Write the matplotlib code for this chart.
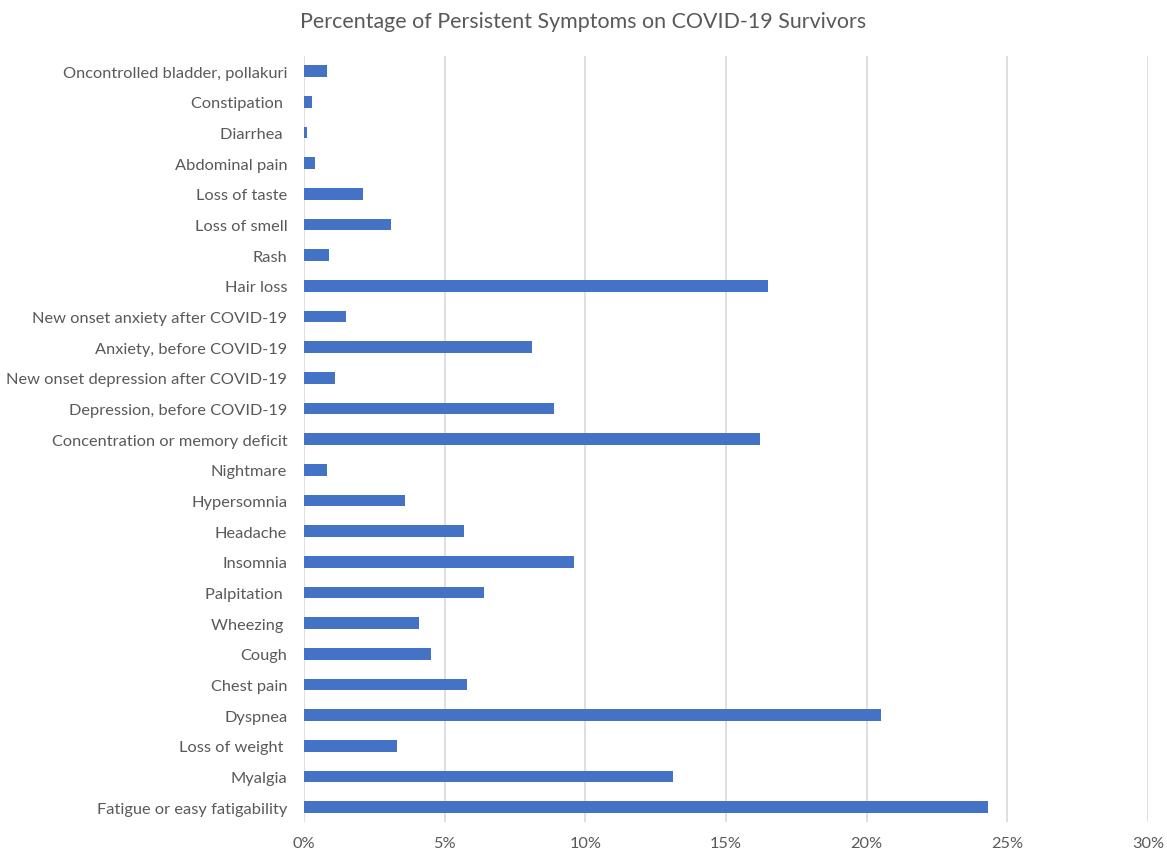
import matplotlib.pyplot as plt
from matplotlib.ticker import PercentFormatter

# categories listed bottom to top, as drawn
symptoms = [
    "Fatigue or easy fatigability", "Myalgia", "Loss of weight ", "Dyspnea",
    "Chest pain", "Cough", "Wheezing ", "Palpitation ", "Insomnia", "Headache",
    "Hypersomnia", "Nightmare", "Concentration or memory deficit",
    "Depression, before COVID-19", "New onset depression after COVID-19",
    "Anxiety, before COVID-19", "New onset anxiety after COVID-19", "Hair loss",
    "Rash", "Loss of smell", "Loss of taste", "Abdominal pain", "Diarrhea ",
    "Constipation ", "Oncontrolled bladder, pollakuri",
]
percent = [
    24.3, 13.1, 3.3, 20.5, 5.8, 4.5, 4.1, 6.4, 9.6, 5.7,
    3.6, 0.8, 16.2, 8.9, 1.1, 8.1, 1.5, 16.5,
    0.9, 3.1, 2.1, 0.4, 0.1, 0.3, 0.8,
]
xticks = [0, 5, 10, 15, 20, 25, 30]

def main():
    plt.rcParams['font.family'] = ['Lato', 'DejaVu Sans']
    grey = '#595959'

    fig = plt.figure(figsize=(11.67, 8.53), dpi=100)
    ax = fig.add_axes([0.2605, 0.0346, 0.7232, 0.8986])

    ax.barh(range(len(symptoms)), percent, height=0.38, color='#4472C4')
    ax.set_ylim(-0.5, len(symptoms) - 0.5)
    ax.set_yticks(range(len(symptoms)))
    ax.set_yticklabels(symptoms)

    ax.set_xlim(0, 30)
    ax.set_xticks(xticks)
    ax.xaxis.set_major_formatter(PercentFormatter(decimals=0))

    # light vertical gridlines, no frame
    ax.grid(axis='x', color='#D9D9D9', linewidth=1.2)
    ax.set_axisbelow(True)
    for s in ax.spines.values():
        s.set_visible(False)
    ax.tick_params(axis='both', length=0, colors=grey, labelsize=11.8)
    ax.tick_params(axis='y', pad=12)
    ax.tick_params(axis='x', pad=10)

    fig.text(0.5, 0.974, 'Percentage of Persistent Symptoms on COVID-19 Survivors',
             ha='center', va='center', fontsize=15.4, color=grey)

    fig.savefig('out.png', dpi=100, facecolor='white')


if __name__ == '__main__':
    main()
